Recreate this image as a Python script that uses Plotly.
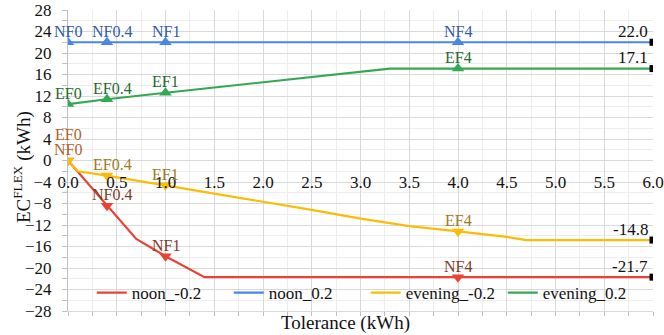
import plotly.graph_objects as go

# ---------------- data ----------------
tol_noon_neg = [0.0, 0.1, 0.4, 0.7, 1.0, 1.4, 4.0, 6.0]
noon_neg = [0.0, -2.1, -8.4, -14.6, -17.8, -21.7, -21.7, -21.7]

tol_noon_pos = [0.0, 0.4, 1.0, 4.0, 6.0]
noon_pos = [22.0, 22.0, 22.0, 22.0, 22.0]

tol_eve_neg = [0.0, 0.1, 0.4, 1.0, 1.5, 2.0, 2.5, 3.0, 3.5, 4.0, 4.5, 4.7, 6.0]
eve_neg = [0.0, -2.0, -2.8, -4.6, -6.2, -7.7, -9.2, -10.8, -12.2, -13.2, -14.2, -14.8, -14.8]

tol_eve_pos = [0.0, 0.4, 1.0, 3.3, 4.0, 6.0]
eve_pos = [10.5, 11.4, 12.6, 17.1, 17.1, 17.1]

label_tols = [0.0, 0.4, 1.0, 4.0]
series_names = ["noon_-0.2", "noon_0.2", "evening_-0.2", "evening_0.2"]
label_prefixes = ["NF", "NF", "EF", "EF"]

# ---------------- styles ----------------
FONT = "Liberation Serif"
series = [
    dict(x=tol_noon_neg, y=noon_neg, color="#EA4335", symbol="triangle-down",
         lab="#7E3B1C", lab0="#B5612A", up0=11),
    dict(x=tol_noon_pos, y=noon_pos, color="#4A86E8", symbol="triangle-up",
         lab="#2F5BAA", lab0="#2F5BAA", up0=11),
    dict(x=tol_eve_neg, y=eve_neg, color="#FBBC05", symbol="triangle-down",
         lab="#9C7B1E", lab0="#B5612A", up0=26),
    dict(x=tol_eve_pos, y=eve_pos, color="#34A853", symbol="triangle-up",
         lab="#1F6B33", lab0="#1F6B33", up0=11),
]

fig = go.Figure()
annotations = []

for s, name in zip(series, series_names):
    fig.add_trace(go.Scatter(
        x=s["x"], y=s["y"], mode="lines", name=name,
        line=dict(color=s["color"], width=2.2), hoverinfo="skip"))

for s, prefix in zip(series, label_prefixes):
    mx = [x for x in s["x"] if x in label_tols]
    my = [y for x, y in zip(s["x"], s["y"]) if x in label_tols]
    fig.add_trace(go.Scatter(
        x=mx, y=my, mode="markers", showlegend=False,
        marker=dict(symbol=s["symbol"], size=11, color=s["color"]),
        hoverinfo="skip"))
    for x, y in zip(mx, my):
        annotations.append(dict(
            x=x, y=y, xref="x", yref="y", text=f"{prefix}{x:g}",
            showarrow=False, xanchor="center", yanchor="middle",
            yshift=s["up0"] if x == 0 else 11,
            xshift=5 if x == 0.4 else 0,
            font=dict(family=FONT, size=16,
                      color=s["lab0"] if x == 0 else s["lab"])))
    # end point marker and value label
    fig.add_trace(go.Scatter(
        x=[s["x"][-1]], y=[s["y"][-1]], mode="markers", showlegend=False,
        xaxis="x2",
        marker=dict(symbol="square", size=7, color="black"),
        hoverinfo="skip"))
    annotations.append(dict(
        x=s["x"][-1], y=s["y"][-1], xref="x", yref="y",
        text=f"{s['y'][-1]:.1f}", showarrow=False,
        xanchor="right", yanchor="middle", xshift=-3, yshift=11,
        font=dict(family=FONT, size=17, color="#111111")))

# axis titles
annotations.append(dict(
    x=0.475, y=0, xref="paper", yref="paper", yshift=-12,
    text="Tolerance (kWh)", showarrow=False, xanchor="center",
    yanchor="middle", font=dict(family=FONT, size=19, color="#111111")))
annotations.append(dict(
    x=0, y=0.478, xref="paper", yref="paper", xshift=-46,
    text="EC<sup>FLEX</sup> (kWh)", showarrow=False, textangle=-90,
    xanchor="center", yanchor="middle",
    font=dict(family=FONT, size=19, color="#111111")))

fig.update_layout(
    width=664, height=335,
    margin=dict(l=68, r=11, t=10, b=24, autoexpand=False),
    paper_bgcolor="white", plot_bgcolor="white",
    font=dict(family=FONT, size=17, color="#111111"),
    xaxis=dict(
        range=[0, 6], tick0=0, dtick=0.5, tickformat=".1f",
        showgrid=True, gridcolor="#D9D9D9", gridwidth=1,
        minor=dict(dtick=0.25, tick0=0, showgrid=True, gridcolor="#EDEDED"),
        zeroline=False, anchor="free", position=0.5, automargin=False,
        ticks="", ticklabelstandoff=9, showline=False,
        tickfont=dict(family=FONT, size=17)),
    xaxis2=dict(
        range=[0, 6], overlaying="x", anchor="y", side="bottom",
        showgrid=False, showticklabels=False, zeroline=False, automargin=False,
        ticks="outside", tick0=0, dtick=0.25, ticklen=4,
        tickcolor="#BFBFBF", showline=True, linecolor="#D9D9D9"),
    yaxis=dict(
        range=[-28, 28], tick0=0, dtick=4, automargin=False,
        showgrid=True, gridcolor="#D9D9D9",
        minor=dict(dtick=2, tick0=0, showgrid=True, gridcolor="#EDEDED",
                   ticks="outside", ticklen=5, tickcolor="#BFBFBF"),
        ticks="outside", ticklen=5, tickcolor="#BFBFBF",
        showline=True, linecolor="#BFBFBF", zeroline=False,
        ticklabelstandoff=7, tickfont=dict(family=FONT, size=17)),
    legend=dict(orientation="h", x=0.509, xanchor="center", y=0,
                yanchor="bottom", bgcolor="rgba(0,0,0,0)",
                entrywidth=92, entrywidthmode="pixels",
                font=dict(family=FONT, size=17)),
    annotations=annotations,
)

fig.write_html("out.html")
